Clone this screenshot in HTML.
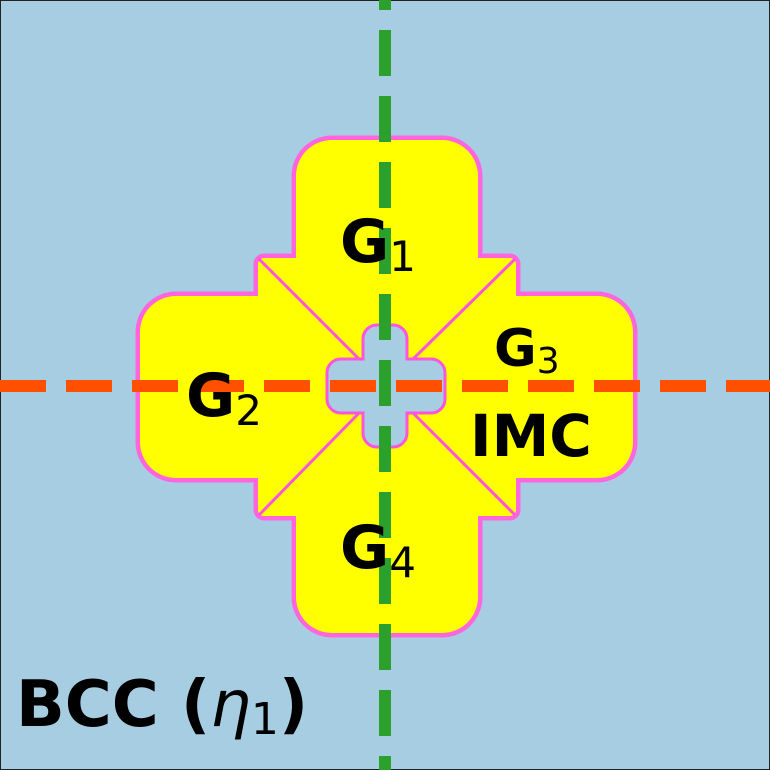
<!DOCTYPE html>
<html><head><meta charset="utf-8"><style>
html,body{margin:0;padding:0;background:#a6cde1}
svg{display:block}
text{font-family:"DejaVu Sans","Liberation Sans",sans-serif;font-weight:bold;fill:#000}
</style></head><body>
<svg width="770" height="770" viewBox="0 0 770 770">
<rect x="0" y="0" width="770" height="770" fill="#a6cde1" stroke="#222" stroke-width="2"/>
<g>
 <g fill="none" stroke="#ff66dd" stroke-width="5">
  <rect x="294" y="138" width="186" height="497" rx="38"/>
  <rect x="138" y="294" width="497" height="186" rx="38"/>
  <rect x="256" y="256" width="262" height="262" rx="8"/>
 </g>
 <g fill="#ffff00">
  <rect x="296" y="140" width="182" height="493" rx="36"/>
  <rect x="140" y="296" width="493" height="182" rx="36"/>
  <rect x="258" y="258" width="258" height="258" rx="6"/>
 </g>
 <g stroke="#ff55dd" stroke-width="3">
  <line x1="259" y1="259" x2="362" y2="362"/>
  <line x1="515" y1="259" x2="410" y2="362"/>
  <line x1="259" y1="515" x2="362" y2="410"/>
  <line x1="515" y1="515" x2="410" y2="410"/>
 </g>
 <path d="M363,339 a14,14 0 0 1 14,-14 h16 a14,14 0 0 1 14,14 v20 h24 a14,14 0 0 1 14,14 v26 a14,14 0 0 1 -14,14 h-24 v20 a14,14 0 0 1 -14,14 h-16 a14,14 0 0 1 -14,-14 v-20 h-22 a14,14 0 0 1 -14,-14 v-26 a14,14 0 0 1 14,-14 h22 z" fill="#a6cde1" stroke="#ff55dd" stroke-width="3"/>
</g>
<line x1="385" y1="0" x2="385" y2="770" stroke="#2ca02c" stroke-width="12" stroke-dasharray="46 20" stroke-dashoffset="36"/>
<line x1="0" y1="386" x2="770" y2="386" stroke="#ff5000" stroke-width="12" stroke-dasharray="46 20"/>
<text x="340" y="262" font-size="60">G<tspan font-size="42" font-weight="normal" dy="9">1</tspan></text>
<text x="186" y="416" font-size="60">G<tspan font-size="42" font-weight="normal" dy="9">2</tspan></text>
<text x="494" y="366" font-size="52">G<tspan font-size="36" font-weight="normal" dy="7">3</tspan></text>
<text x="470" y="456" font-size="58">IMC</text>
<text x="340" y="568" font-size="60">G<tspan font-size="42" font-weight="normal" dy="9">4</tspan></text>
<text x="16" y="726" font-size="64">BCC (<tspan font-style="italic" font-weight="normal">η</tspan><tspan font-size="44" font-weight="normal" dy="8">1</tspan><tspan dy="-8">)</tspan></text>
</svg>
</body></html>
